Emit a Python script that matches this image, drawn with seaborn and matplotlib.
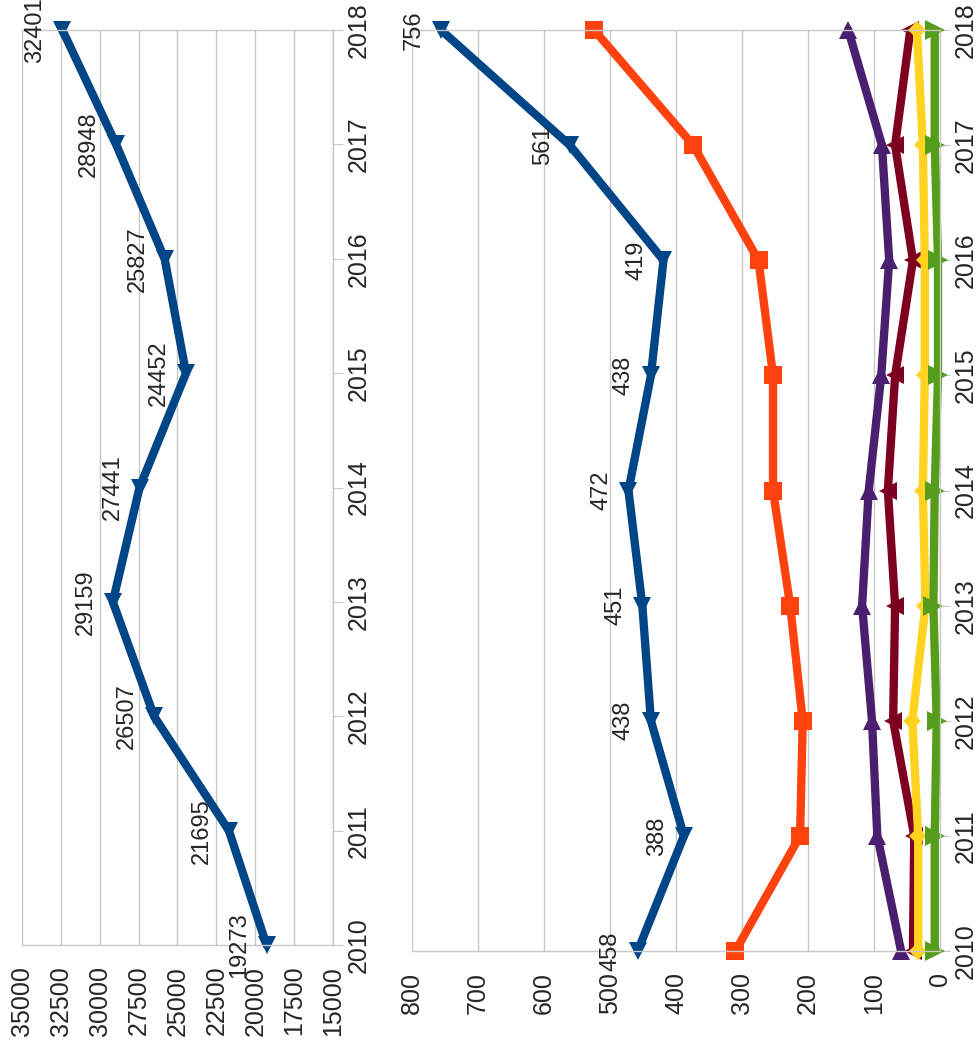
import matplotlib
matplotlib.use("Agg")
import matplotlib.pyplot as plt
import seaborn as sns

# data
years = [2010, 2011, 2012, 2013, 2014, 2015, 2016, 2017, 2018]
total = [19273, 21695, 26507, 29159, 27441, 24452, 25827, 28948, 32401]

blue = [458, 388, 438, 451, 472, 438, 419, 561, 756]
orange = [310, 212, 208, 227, 253, 253, 275, 374, 524]
purple = [59, 95, 103, 118, 108, 89, 77, 88, 139]
darkred = [41, 39, 71, 68, 79, 68, 41, 68, 45]
yellow = [33, 33, 42, 22, 26, 23, 23, 26, 35]
green = [8, 8, 5, 10, 8, 3, 3, 8, 8]

left_ticks = [35000, 32500, 30000, 27500, 25000, 22500, 20000, 17500, 15000]
right_ticks = [800, 700, 600, 500, 400, 300, 200, 100, 0]

sns.set_style("white")
plt.rcParams['font.family'] = ['Liberation Sans', 'DejaVu Sans']

W, H = 976, 1053
fig = plt.figure(figsize=(W / 100, H / 100), dpi=100)

grid_c = "#c8c8c8"


def setup(ax, lo, hi, ticks):
    ax.set_xlim(hi, lo)
    ax.set_ylim(2010, 2018)
    ax.set_xticks(ticks)
    ax.set_xticklabels([str(t) for t in ticks], rotation=90, fontsize=18)
    ax.set_yticks(years)
    ax.set_yticklabels([str(y) for y in years], rotation=90, fontsize=18, va="center")
    ax.yaxis.tick_right()
    ax.grid(axis="x", color=grid_c, lw=1)
    ax.tick_params(axis="x", length=7, color=grid_c, pad=8)
    ax.tick_params(axis="y", length=7, color=grid_c, pad=3)
    for s in ["top", "bottom", "right"]:
        ax.spines[s].set_color(grid_c)
        ax.spines[s].set_linewidth(1)
    ax.spines["left"].set_visible(False)
    ax.set_xlabel("")
    ax.set_ylabel("")


def draw(ax, vals, color, marker, ms=13, labels=False):
    sns.lineplot(x=vals, y=years, ax=ax, sort=False, estimator=None, color=color,
                 lw=6, marker=marker, markersize=ms, markeredgewidth=0, clip_on=False)
    if labels:
        for v, yr in zip(vals, years):
            ax.annotate(str(v), (v, yr), xytext=(-16, 0), textcoords="offset pixels",
                        rotation=90, ha="right", va="center", fontsize=17)


# left panel
ax1 = fig.add_axes([22 / W, (H - 945) / H, 311 / W, 915 / H])
draw(ax1, total, "#004586", "v", labels=True)
setup(ax1, 15000, 35000, left_ticks)

# right panel
ax2 = fig.add_axes([412 / W, (H - 951) / H, 528 / W, 921 / H])
draw(ax2, orange, "#ff420e", "s")
draw(ax2, purple, "#4b1f6f", "^")
draw(ax2, darkred, "#7e0021", "<")
draw(ax2, yellow, "#ffd320", "D", ms=9)
draw(ax2, green, "#579d1c", ">", ms=14)
draw(ax2, blue, "#004586", "v", labels=True)
setup(ax2, 0, 800, right_ticks)

plt.savefig("out.png", dpi=100)
